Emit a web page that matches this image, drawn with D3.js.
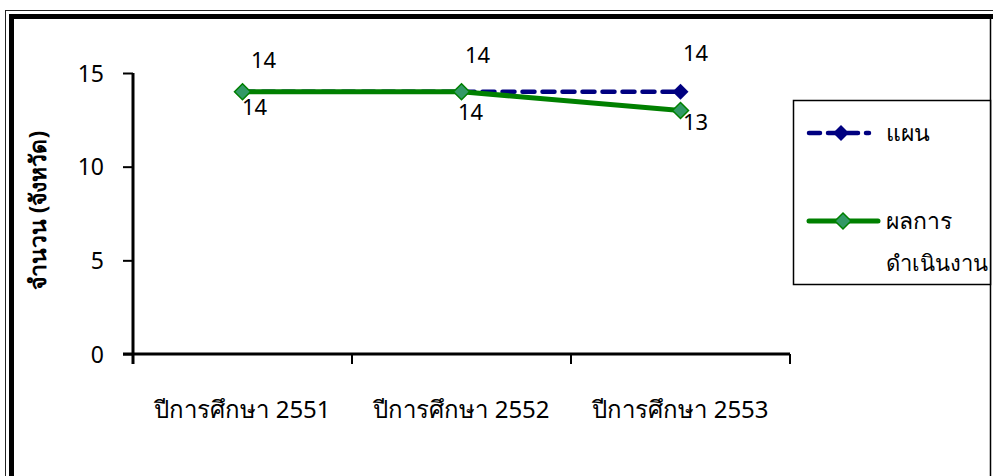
<!DOCTYPE html>
<html>
<head>
<meta charset="utf-8">
<script src="https://cdn.jsdelivr.net/npm/d3@7"></script>
<style>
  html, body { margin: 0; padding: 0; background: #fff; }
  svg { display: block; }
  text { font-family: Tahoma, "Noto Sans", "DejaVu Sans", sans-serif; fill: #000; }
</style>
</head>
<body>
<svg id="chart" width="993" height="476"></svg>
<script>
// Academic years and values (number of provinces)
const categories = ["ปีการศึกษา 2551", "ปีการศึกษา 2552", "ปีการศึกษา 2553"];
const planValues = [14, 14, 14];
const resultValues = [14, 14, 13];
const yTicks = [0, 5, 10, 15];
const seriesNames = ["แผน", "ผลการ\nดำเนินงาน"];
const yTitle = "จำนวน (จังหวัด)";

const svg = d3.select("#chart");

// Decorative double frame around the whole chart
svg.append("rect").attr("x", 5.5).attr("y", 10.5).attr("width", 1000).attr("height", 500)
  .attr("fill", "none").attr("stroke", "#222").attr("stroke-width", 1);
svg.append("rect").attr("x", 11.5).attr("y", 16.5).attr("width", 1000).attr("height", 500)
  .attr("fill", "none").attr("stroke", "#000").attr("stroke-width", 5);
svg.append("line").attr("x1", 990.5).attr("x2", 990.5).attr("y1", 19).attr("y2", 476)
  .attr("stroke", "#000").attr("stroke-width", 1.5);

const plot = { left: 133, right: 790, top: 73, bottom: 354 };

const x = d3.scaleBand().domain(categories).range([plot.left, plot.right]).paddingInner(0).paddingOuter(0);
const y = d3.scaleLinear().domain([0, 15]).range([plot.bottom, plot.top]);
const cx = d => x(d) + x.bandwidth() / 2;

// Y axis
const yAxis = svg.append("g").attr("transform", `translate(${plot.left},0)`)
  .call(d3.axisLeft(y).tickValues(yTicks).tickSize(10).tickPadding(19).tickFormat(d3.format("d")));
yAxis.select(".domain").attr("d", `M0,${plot.top}V${plot.bottom + 10}`).attr("stroke-width", 3);
yAxis.selectAll(".tick line").attr("stroke-width", 2);
yAxis.selectAll(".tick text").style("font-size", "23px").attr("dy", "0.36em");

// X axis with ticks at the category boundaries
const xAxis = svg.append("g").attr("transform", `translate(0,${plot.bottom})`);
xAxis.append("line").attr("x1", plot.left - 10).attr("x2", plot.right)
  .attr("stroke", "#000").attr("stroke-width", 3);
const bounds = categories.map(c => x(c)).concat([plot.right]);
xAxis.selectAll(".xt").data(bounds).join("line")
  .attr("x1", d => d).attr("x2", d => d).attr("y1", 0).attr("y2", 10)
  .attr("stroke", "#000").attr("stroke-width", 2);
xAxis.selectAll(".xl").data(categories).join("text")
  .attr("x", d => cx(d)).attr("y", 64).attr("text-anchor", "middle")
  .style("font-size", "24px").text(d => d);

// Y axis title
svg.append("text")
  .attr("transform", `translate(46,${(plot.top + plot.bottom) / 2 - 3}) rotate(-90)`)
  .attr("text-anchor", "middle").style("font-size", "23px").style("font-weight", "bold")
  .text(yTitle);

const line = vals => d3.line().x((d, i) => cx(categories[i])).y(d => y(d))(vals);

function diamondPath(r) {
  return `M0,${-r}L${r},0L0,${r}L${-r},0Z`;
}

// Plan series: dashed navy
svg.append("path").attr("d", line(planValues)).attr("fill", "none")
  .attr("stroke", "#000080").attr("stroke-width", 4.5)
  .attr("stroke-dasharray", "12,8").attr("stroke-linecap", "round");
svg.selectAll(".pm").data(planValues).join("path")
  .attr("transform", (d, i) => `translate(${cx(categories[i])},${y(d)})`)
  .attr("d", diamondPath(8)).attr("fill", "#000080");

// Result series: solid green
svg.append("path").attr("d", line(resultValues)).attr("fill", "none")
  .attr("stroke", "#008000").attr("stroke-width", 5);
svg.selectAll(".rm").data(resultValues).join("path")
  .attr("transform", (d, i) => `translate(${cx(categories[i])},${y(d)})`)
  .attr("d", diamondPath(8)).attr("fill", "#339966").attr("stroke", "#008000").attr("stroke-width", 1.5);

// Value labels
const planOffsets = [[21, -32], [16, -37], [15, -39]];
svg.selectAll(".pl").data(planValues).join("text")
  .attr("x", (d, i) => cx(categories[i]) + planOffsets[i][0])
  .attr("y", (d, i) => y(d) + planOffsets[i][1])
  .attr("text-anchor", "middle").attr("dy", "0.36em").style("font-size", "22px")
  .text(d => d);
const resOffsets = [[12, 15], [9, 20], [15, 12]];
svg.selectAll(".rl").data(resultValues).join("text")
  .attr("x", (d, i) => cx(categories[i]) + resOffsets[i][0])
  .attr("y", (d, i) => y(d) + resOffsets[i][1])
  .attr("text-anchor", "middle").attr("dy", "0.36em").style("font-size", "22px")
  .text(d => d);

// Legend
const lg = svg.append("g");
lg.append("rect").attr("x", 793.5).attr("y", 100.5).attr("width", 197).attr("height", 184)
  .attr("fill", "#fff").attr("stroke", "#000").attr("stroke-width", 1.5);
lg.append("line").attr("x1", 809).attr("x2", 869).attr("y1", 133).attr("y2", 133)
  .attr("stroke", "#000080").attr("stroke-width", 4.5).attr("stroke-dasharray", "11,8")
  .attr("stroke-linecap", "round");
lg.append("path").attr("transform", "translate(841,133)").attr("d", diamondPath(8)).attr("fill", "#000080");
lg.append("text").attr("x", 886).attr("y", 133).attr("dy", "0.36em").style("font-size", "23px").text(seriesNames[0]);

lg.append("line").attr("x1", 809).attr("x2", 878).attr("y1", 221).attr("y2", 221)
  .attr("stroke", "#008000").attr("stroke-width", 5).attr("stroke-linecap", "round");
lg.append("path").attr("transform", "translate(843,221)").attr("d", diamondPath(8))
  .attr("fill", "#339966").attr("stroke", "#008000").attr("stroke-width", 1.5);
const parts = seriesNames[1].split("\n");
lg.append("text").attr("x", 886).attr("y", 221).attr("dy", "0.36em").style("font-size", "23px").text(parts[0]);
lg.append("text").attr("x", 886).attr("y", 263).attr("dy", "0.36em").style("font-size", "22px").text(parts[1]);
</script>
</body>
</html>
